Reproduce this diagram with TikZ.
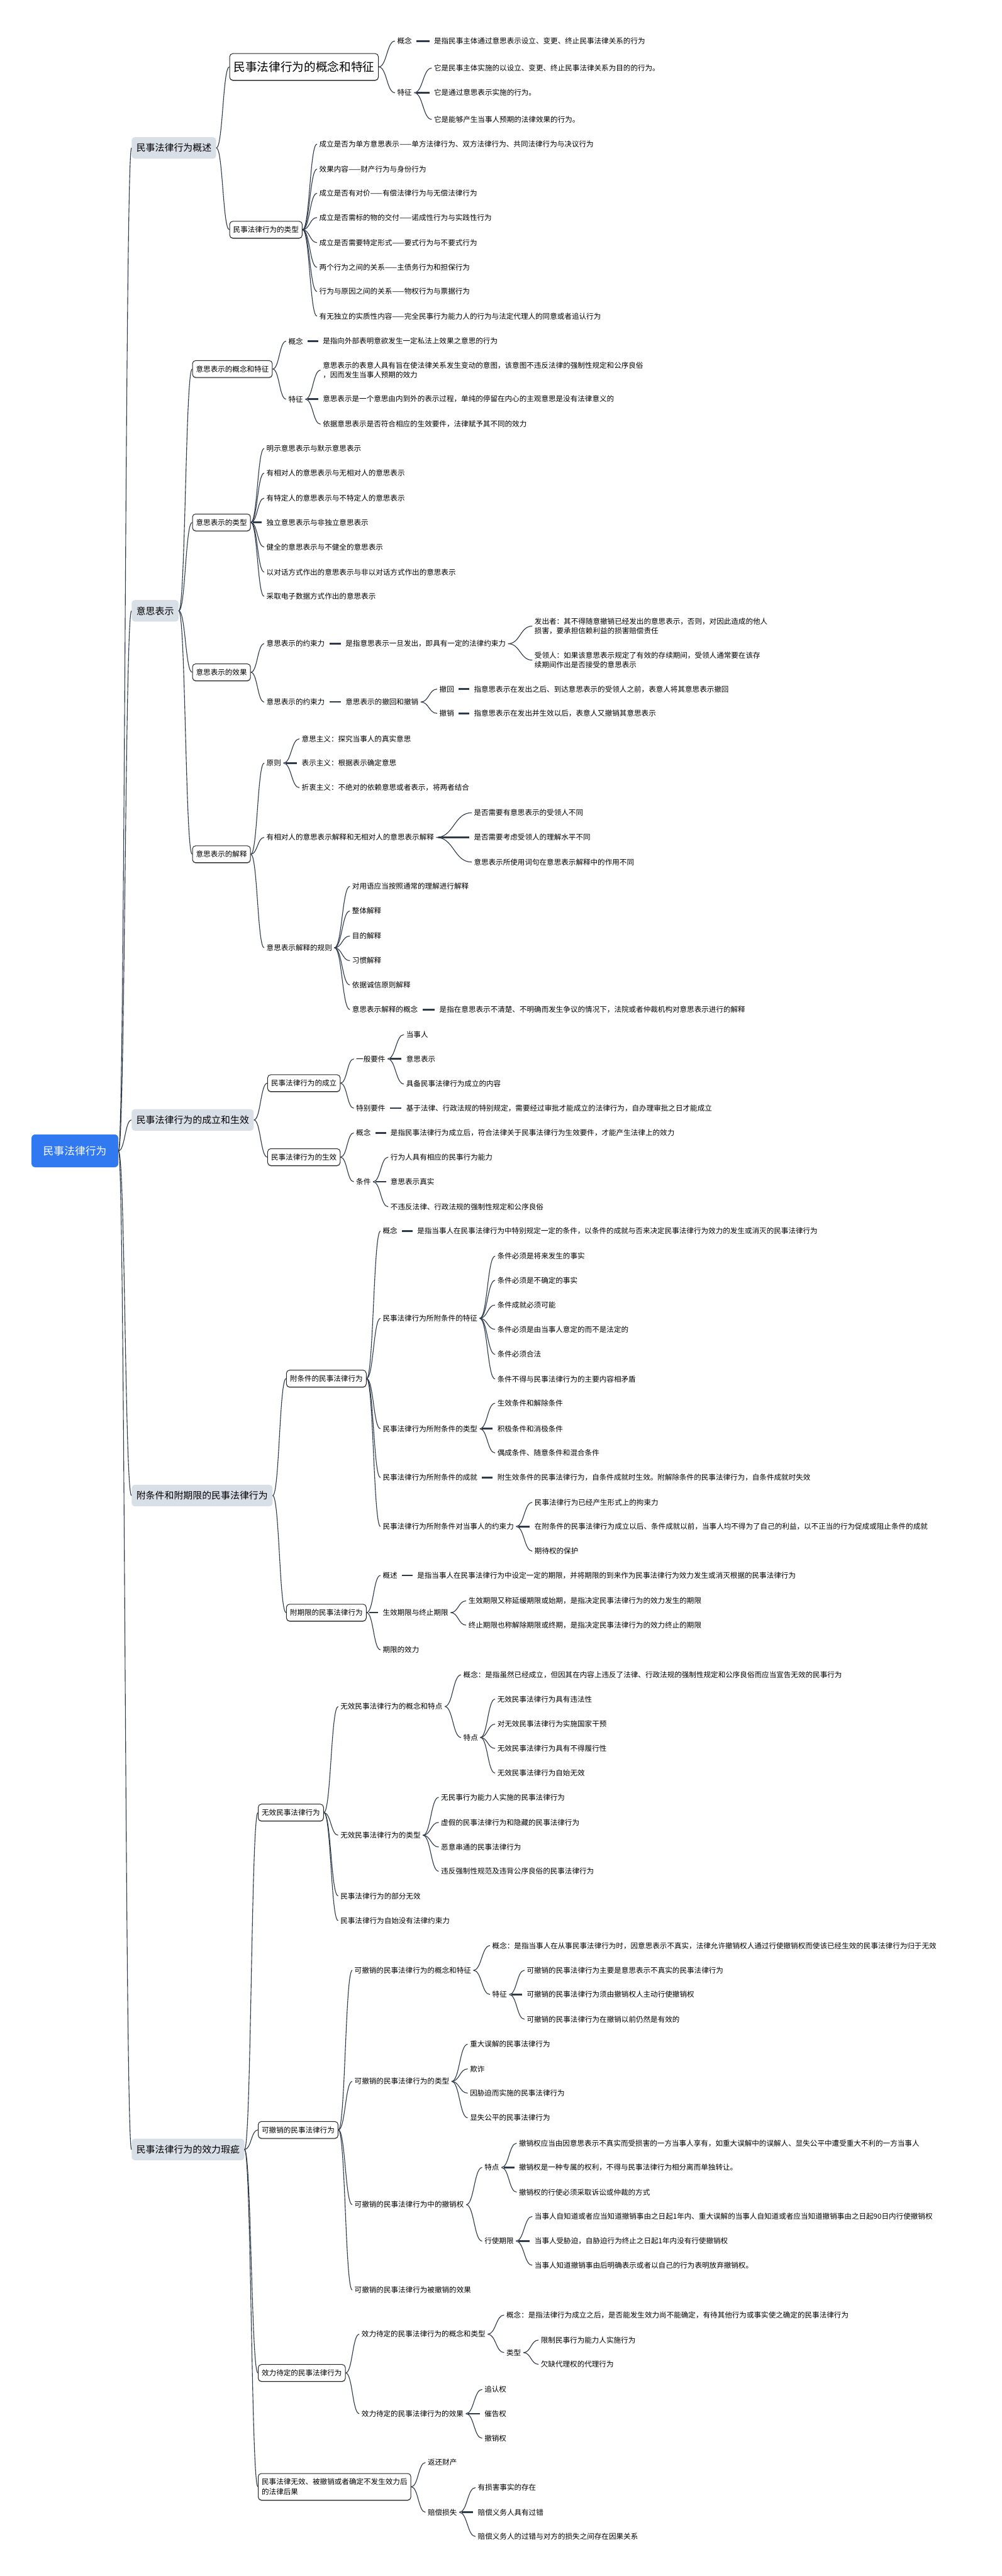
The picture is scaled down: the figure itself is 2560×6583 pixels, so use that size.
\documentclass[tikz,border=0pt]{standalone}
\usepackage{fontspec}
\setmainfont{Noto Sans CJK SC}
\usetikzlibrary{calc,shadows}
\definecolor{linec}{HTML}{2E3A4A}
\definecolor{lonefill}{HTML}{D9DFE7}
\definecolor{rootfill}{HTML}{3079F0}
\tikzset{
  leaf/.style={anchor=west, inner sep=0pt, outer xsep=3pt, xshift=-3pt, font=\fontsize{9.3pt}{12.3pt}\selectfont, text=black, align=left},
  bx/.style={anchor=west, draw=black!85, line width=0.8pt, rounded corners=4pt, fill=white, inner xsep=4.5pt, inner ysep=0pt, minimum height=21.5pt, font=\fontsize{9.3pt}{12.3pt}\selectfont, align=left, drop shadow={shadow xshift=0pt, shadow yshift=-1pt, fill=black!75}},
  lone/.style={anchor=west, fill=lonefill, rounded corners=4pt, inner xsep=6pt, inner ysep=0pt, minimum height=27.5pt, font=\fontsize{12pt}{14pt}\selectfont},
  rootn/.style={anchor=west, fill=rootfill, text=white, rounded corners=5pt, inner xsep=13pt, minimum height=42pt, minimum width=111pt, font=\fontsize{13.5pt}{16pt}\selectfont},
  conn/.style={draw=linec, line width=0.9pt},
  stub/.style={draw=linec, line width=2pt, shorten <=3pt, shorten >=3pt},
}
\newcommand\mmlink[2]{\draw[conn] let \p1=(#1.east),\p2=(#2.west) in (\p1) .. controls ({0.5*\x1+0.5*\x2},\y1) and ({0.5*\x1+0.5*\x2},\y2) .. (\p2);}
\newcommand\mmstub[2]{\draw[stub] (#1.east) -- (#2.west);}
\begin{document}
\begin{tikzpicture}[x=0.5pt,y=-0.5pt]
\fill[white] (0,0) rectangle (2560,6583);
\useasboundingbox (0,0) rectangle (2560,6583);
% root and level 1
\node[rootn] (r) at (80,2941) {民事法律行为};
\node[lone] (a1) at (336,378) {民事法律行为概述};
\node[lone] (a2) at (336,1561) {意思表示};
\node[lone] (a3) at (336,2862) {民事法律行为的成立和生效};
\node[lone] (a4) at (336,3822) {附条件和附期限的民事法律行为};
\node[lone] (a5) at (336,5493) {民事法律行为的效力瑕疵};
\mmlink{r}{a1}\mmlink{r}{a2}\mmlink{r}{a3}\mmlink{r}{a4}\mmlink{r}{a5}

% ===== Section 1 =====
\node[bx, font=\fontsize{15pt}{18pt}\selectfont, minimum height=34pt, inner xsep=5pt] (b11) at (586,171) {民事法律行为的概念和特征};
\node[leaf] (c111) at (1015,105) {概念};
\node[leaf] (d1111) at (1109,105) {是指民事主体通过意思表示设立、变更、终止民事法律关系的行为};
\node[leaf] (c112) at (1015,237) {特征};
\node[leaf] (d1121) at (1109,174) {它是民事主体实施的以设立、变更、终止民事法律关系为目的的行为。};
\node[leaf] (d1122) at (1109,237) {它是通过意思表示实施的行为。};
\node[leaf] (d1123) at (1109,305) {它是能够产生当事人预期的法律效果的行为。};
\mmlink{a1}{b11}
\mmlink{b11}{c111}\mmlink{b11}{c112}
\mmstub{c111}{d1111}
\mmlink{c112}{d1121}\mmstub{c112}{d1122}\mmlink{c112}{d1123}

\node[bx] (b12) at (586,587) {民事法律行为的类型};
\node[leaf] (b12c1) at (816,368) {成立是否为单方意思表示——单方法律行为、双方法律行为、共同法律行为与决议行为};
\node[leaf] (b12c2) at (816,432) {效果内容——财产行为与身份行为};
\node[leaf] (b12c3) at (816,494) {成立是否有对价——有偿法律行为与无偿法律行为};
\node[leaf] (b12c4) at (816,556) {成立是否需标的物的交付——诺成性行为与实践性行为};
\node[leaf] (b12c5) at (816,620) {成立是否需要特定形式——要式行为与不要式行为};
\node[leaf] (b12c6) at (816,683) {两个行为之间的关系——主债务行为和担保行为};
\node[leaf] (b12c7) at (816,745) {行为与原因之间的关系——物权行为与票据行为};
\node[leaf] (b12c8) at (816,808) {有无独立的实质性内容——完全民事行为能力人的行为与法定代理人的同意或者追认行为};
\mmlink{a1}{b12}
\foreach \i in {1,...,8} {\mmlink{b12}{b12c\i}}

% ===== Section 2 =====
\node[bx] (b21) at (491,943) {意思表示的概念和特征};
\node[leaf] (c211) at (737,872) {概念};
\node[leaf] (d2111) at (825,872) {是指向外部表明意欲发生一定私法上效果之意思的行为};
\node[leaf] (c212) at (737,1020) {特征};
\node[leaf] (d2121) at (825,946) {意思表示的表意人具有旨在使法律关系发生变动的意图，该意图不违反法律的强制性规定和公序良俗\\，因而发生当事人预期的效力};
\node[leaf] (d2122) at (825,1020) {意思表示是一个意思由内到外的表示过程，单纯的停留在内心的主观意思是没有法律意义的};
\node[leaf] (d2123) at (825,1084) {依据意思表示是否符合相应的生效要件，法律赋予其不同的效力};
\mmlink{a2}{b21}
\mmlink{b21}{c211}\mmlink{b21}{c212}
\mmstub{c211}{d2111}
\mmlink{c212}{d2121}\mmstub{c212}{d2122}\mmlink{c212}{d2123}

\node[bx] (b22) at (491,1335) {意思表示的类型};
\node[leaf] (b22c1) at (681,1146) {明示意思表示与默示意思表示};
\node[leaf] (b22c2) at (681,1209) {有相对人的意思表示与无相对人的意思表示};
\node[leaf] (b22c3) at (681,1273) {有特定人的意思表示与不特定人的意思表示};
\node[leaf] (b22c4) at (681,1335) {独立意思表示与非独立意思表示};
\node[leaf] (b22c5) at (681,1398) {健全的意思表示与不健全的意思表示};
\node[leaf] (b22c6) at (681,1462) {以对话方式作出的意思表示与非以对话方式作出的意思表示};
\node[leaf] (b22c7) at (681,1524) {采取电子数据方式作出的意思表示};
\mmlink{a2}{b22}
\foreach \i in {1,2,3,5,6,7} {\mmlink{b22}{b22c\i}}
\mmstub{b22}{b22c4}

\node[bx] (b23) at (491,1718) {意思表示的效果};
\node[leaf] (c231) at (681,1645) {意思表示的约束力};
\node[leaf] (c2311) at (883,1645) {是指意思表示一旦发出，即具有一定的法律约束力};
\node[leaf] (e1) at (1366,1600) {发出者：其不得随意撤销已经发出的意思表示，否则，对因此造成的他人\\损害，要承担信赖利益的损害赔偿责任};
\node[leaf] (e2) at (1366,1687) {受领人：如果该意思表示规定了有效的存续期间，受领人通常要在该存\\续期间作出是否接受的意思表示};
\node[leaf] (c232) at (681,1794) {意思表示的约束力};
\node[leaf] (c2321) at (883,1794) {意思表示的撤回和撤销};
\node[leaf] (e3) at (1123,1761) {撤回};
\node[leaf] (e3t) at (1211,1761) {指意思表示在发出之后、到达意思表示的受领人之前，表意人将其意思表示撤回};
\node[leaf] (e4) at (1123,1823) {撤销};
\node[leaf] (e4t) at (1211,1823) {指意思表示在发出并生效以后，表意人又撤销其意思表示};
\mmlink{a2}{b23}
\mmlink{b23}{c231}\mmlink{b23}{c232}
\mmstub{c231}{c2311}\mmlink{c2311}{e1}\mmlink{c2311}{e2}
\mmstub{c232}{c2321}\mmlink{c2321}{e3}\mmlink{c2321}{e4}
\mmstub{e3}{e3t}\mmstub{e4}{e4t}

\node[bx] (b24) at (491,2183) {意思表示的解释};
\node[leaf] (c241) at (681,1950) {原则};
\node[leaf] (f1) at (771,1888) {意思主义：探究当事人的真实意思};
\node[leaf] (f2) at (771,1950) {表示主义：根据表示确定意思};
\node[leaf] (f3) at (771,2013) {折衷主义：不绝对的依赖意思或者表示，将两者结合};
\node[leaf] (c242) at (681,2140) {有相对人的意思表示解释和无相对人的意思表示解释};
\node[leaf] (g1) at (1211,2077) {是否需要有意思表示的受领人不同};
\node[leaf] (g2) at (1211,2140) {是否需要考虑受领人的理解水平不同};
\node[leaf] (g3) at (1211,2203) {意思表示所使用词句在意思表示解释中的作用不同};
\node[leaf] (c243) at (681,2422) {意思表示解释的规则};
\node[leaf] (h1) at (900,2265) {对用语应当按照通常的理解进行解释};
\node[leaf] (h2) at (900,2328) {整体解释};
\node[leaf] (h3) at (900,2392) {目的解释};
\node[leaf] (h4) at (900,2455) {习惯解释};
\node[leaf] (h5) at (900,2517) {依据诚信原则解释};
\node[leaf] (h6) at (900,2580) {意思表示解释的概念};
\node[leaf] (h6t) at (1123,2580) {是指在意思表示不清楚、不明确而发生争议的情况下，法院或者仲裁机构对意思表示进行的解释};
\mmlink{a2}{b24}
\mmlink{b24}{c241}\mmlink{b24}{c242}\mmlink{b24}{c243}
\mmlink{c241}{f1}\mmstub{c241}{f2}\mmlink{c241}{f3}
\mmlink{c242}{g1}\mmstub{c242}{g2}\mmlink{c242}{g3}
\foreach \i in {1,...,6} {\mmlink{c243}{h\i}}
\mmstub{h6}{h6t}

% ===== Section 3 =====
\node[bx] (b31) at (683,2768) {民事法律行为的成立};
\node[leaf] (c311) at (910,2706) {一般要件};
\node[leaf] (i1) at (1038,2644) {当事人};
\node[leaf] (i2) at (1038,2706) {意思表示};
\node[leaf] (i3) at (1038,2770) {具备民事法律行为成立的内容};
\node[leaf] (c312) at (910,2832) {特别要件};
\node[leaf] (c312t) at (1038,2832) {基于法律、行政法规的特别规定，需要经过审批才能成立的法律行为，自办理审批之日才能成立};
\mmlink{a3}{b31}
\mmlink{b31}{c311}\mmlink{b31}{c312}
\mmlink{c311}{i1}\mmstub{c311}{i2}\mmlink{c311}{i3}
\mmstub{c312}{c312t}

\node[bx] (b32) at (683,2957) {民事法律行为的生效};
\node[leaf] (c321) at (910,2895) {概念};
\node[leaf] (c321t) at (998,2895) {是指民事法律行为成立后，符合法律关于民事法律行为生效要件，才能产生法律上的效力};
\node[leaf] (c322) at (910,3020) {条件};
\node[leaf] (j1) at (998,2957) {行为人具有相应的民事行为能力};
\node[leaf] (j2) at (998,3020) {意思表示真实};
\node[leaf] (j3) at (998,3084) {不违反法律、行政法规的强制性规定和公序良俗};
\mmlink{a3}{b32}
\mmlink{b32}{c321}\mmlink{b32}{c322}
\mmstub{c321}{c321t}
\mmlink{c322}{j1}\mmstub{c322}{j2}\mmlink{c322}{j3}

% ===== Section 4 =====
\node[bx] (b41) at (731,3523) {附条件的民事法律行为};
\node[leaf] (c411) at (978,3146) {概念};
\node[leaf] (c411t) at (1066,3146) {是指当事人在民事法律行为中特别规定一定的条件，以条件的成就与否来决定民事法律行为效力的发生或消灭的民事法律行为};
\node[leaf] (c412) at (978,3369) {民事法律行为所附条件的特征};
\node[leaf] (k1) at (1271,3210) {条件必须是将来发生的事实};
\node[leaf] (k2) at (1271,3272) {条件必须是不确定的事实};
\node[leaf] (k3) at (1271,3335) {条件成就必须可能};
\node[leaf] (k4) at (1271,3397) {条件必须是由当事人意定的而不是法定的};
\node[leaf] (k5) at (1271,3461) {条件必须合法};
\node[leaf] (k6) at (1271,3524) {条件不得与民事法律行为的主要内容相矛盾};
\node[leaf] (c413) at (978,3651) {民事法律行为所附条件的类型};
\node[leaf] (l1) at (1271,3586) {生效条件和解除条件};
\node[leaf] (l2) at (1271,3651) {积极条件和消极条件};
\node[leaf] (l3) at (1271,3713) {偶成条件、随意条件和混合条件};
\node[leaf] (c414) at (978,3776) {民事法律行为所附条件的成就};
\node[leaf] (c414t) at (1271,3776) {附生效条件的民事法律行为，自条件成就时生效。附解除条件的民事法律行为，自条件成就时失效};
\node[leaf] (c415) at (978,3901) {民事法律行为所附条件对当事人的约束力};
\node[leaf] (m1) at (1366,3839) {民事法律行为已经产生形式上的拘束力};
\node[leaf] (m2) at (1366,3901) {在附条件的民事法律行为成立以后、条件成就以前，当事人均不得为了自己的利益，以不正当的行为促成或阻止条件的成就};
\node[leaf] (m3) at (1366,3964) {期待权的保护};
\mmlink{a4}{b41}
\mmlink{b41}{c411}\mmlink{b41}{c412}\mmlink{b41}{c413}\mmlink{b41}{c414}\mmlink{b41}{c415}
\mmstub{c411}{c411t}
\foreach \i in {1,...,6} {\mmlink{c412}{k\i}}
\mmlink{c413}{l1}\mmstub{c413}{l2}\mmlink{c413}{l3}
\mmstub{c414}{c414t}
\mmlink{c415}{m1}\mmstub{c415}{m2}\mmlink{c415}{m3}

\node[bx] (b42) at (731,4121) {附期限的民事法律行为};
\node[leaf] (c421) at (978,4026) {概述};
\node[leaf] (c421t) at (1066,4026) {是指当事人在民事法律行为中设定一定的期限，并将期限的到来作为民事法律行为效力发生或消灭根据的民事法律行为};
\node[leaf] (c422) at (978,4121) {生效期限与终止期限};
\node[leaf] (n1) at (1197,4091) {生效期限又称延缓期限或始期，是指决定民事法律行为的效力发生的期限};
\node[leaf] (n2) at (1197,4153) {终止期限也称解除期限或终期，是指决定民事法律行为的效力终止的期限};
\node[leaf] (c423) at (978,4216) {期限的效力};
\mmlink{a4}{b42}
\mmlink{b42}{c421}\mmstub{b42}{c422}\mmlink{b42}{c423}
\mmstub{c421}{c421t}
\mmlink{c422}{n1}\mmlink{c422}{n2}

% ===== Section 5 =====
\node[bx] (b51) at (659,4632) {无效民事法律行为};
\node[leaf] (c511) at (870,4361) {无效民事法律行为的概念和特点};
\node[leaf] (c5111) at (1184,4280) {概念：是指虽然已经成立，但因其在内容上违反了法律、行政法规的强制性规定和公序良俗而应当宣告无效的民事行为};
\node[leaf] (c5112) at (1184,4440) {特点};
\node[leaf] (o1) at (1271,4342) {无效民事法律行为具有违法性};
\node[leaf] (o2) at (1271,4406) {对无效民事法律行为实施国家干预};
\node[leaf] (o3) at (1271,4468) {无效民事法律行为具有不得履行性};
\node[leaf] (o4) at (1271,4531) {无效民事法律行为自始无效};
\node[leaf] (c512) at (870,4690) {无效民事法律行为的类型};
\node[leaf] (p1) at (1127,4593) {无民事行为能力人实施的民事法律行为};
\node[leaf] (p2) at (1127,4657) {虚假的民事法律行为和隐藏的民事法律行为};
\node[leaf] (p3) at (1127,4720) {恶意串通的民事法律行为};
\node[leaf] (p4) at (1127,4782) {违反强制性规范及违背公序良俗的民事法律行为};
\node[leaf] (c513) at (870,4845) {民事法律行为的部分无效};
\node[leaf] (c514) at (870,4908) {民事法律行为自始没有法律约束力};
\mmlink{a5}{b51}
\mmlink{b51}{c511}\mmlink{b51}{c512}\mmlink{b51}{c513}\mmlink{b51}{c514}
\mmlink{c511}{c5111}\mmlink{c511}{c5112}
\foreach \i in {1,...,4} {\mmlink{c5112}{o\i}}
\foreach \i in {1,...,4} {\mmlink{c512}{p\i}}

\node[bx] (b52) at (659,5443) {可撤销的民事法律行为};
\node[leaf] (c521) at (906,5035) {可撤销的民事法律行为的概念和特征};
\node[leaf] (c5211) at (1258,4972) {概念：是指当事人在从事民事法律行为时，因意思表示不真实，法律允许撤销权人通过行使撤销权而使该已经生效的民事法律行为归于无效};
\node[leaf] (c5212) at (1258,5097) {特征};
\node[leaf] (q1) at (1346,5035) {可撤销的民事法律行为主要是意思表示不真实的民事法律行为};
\node[leaf] (q2) at (1346,5097) {可撤销的民事法律行为须由撤销权人主动行使撤销权};
\node[leaf] (q3) at (1346,5160) {可撤销的民事法律行为在撤销以前仍然是有效的};
\node[leaf] (c522) at (906,5319) {可撤销的民事法律行为的类型};
\node[leaf] (s1) at (1201,5224) {重大误解的民事法律行为};
\node[leaf] (s2) at (1201,5287) {欺诈};
\node[leaf] (s3) at (1201,5349) {因胁迫而实施的民事法律行为};
\node[leaf] (s4) at (1201,5412) {显失公平的民事法律行为};
\node[leaf] (c523) at (906,5634) {可撤销的民事法律行为中的撤销权};
\node[leaf] (c5231) at (1238,5539) {特点};
\node[leaf] (u1) at (1326,5477) {撤销权应当由因意思表示不真实而受损害的一方当事人享有，如重大误解中的误解人、显失公平中遭受重大不利的一方当事人};
\node[leaf] (u2) at (1326,5539) {撤销权是一种专属的权利，不得与民事法律行为相分离而单独转让。};
\node[leaf] (u3) at (1326,5602) {撤销权的行使必须采取诉讼或仲裁的方式};
\node[leaf] (c5232) at (1238,5727) {行使期限};
\node[leaf] (v1) at (1366,5664) {当事人自知道或者应当知道撤销事由之日起1年内、重大误解的当事人自知道或者应当知道撤销事由之日起90日内行使撤销权};
\node[leaf] (v2) at (1366,5727) {当事人受胁迫，自胁迫行为终止之日起1年内没有行使撤销权};
\node[leaf] (v3) at (1366,5789) {当事人知道撤销事由后明确表示或者以自己的行为表明放弃撤销权。};
\node[leaf] (c524) at (906,5852) {可撤销的民事法律行为被撤销的效果};
\mmlink{a5}{b52}
\mmlink{b52}{c521}\mmlink{b52}{c522}\mmlink{b52}{c523}\mmlink{b52}{c524}
\mmlink{c521}{c5211}\mmlink{c521}{c5212}
\mmlink{c5212}{q1}\mmstub{c5212}{q2}\mmlink{c5212}{q3}
\foreach \i in {1,...,4} {\mmlink{c522}{s\i}}
\mmlink{c523}{c5231}\mmlink{c523}{c5232}
\mmlink{c5231}{u1}\mmstub{c5231}{u2}\mmlink{c5231}{u3}
\mmlink{c5232}{v1}\mmstub{c5232}{v2}\mmlink{c5232}{v3}

\node[bx] (b53) at (659,6064) {效力待定的民事法律行为};
\node[leaf] (c531) at (924,5965) {效力待定的民事法律行为的概念和类型};
\node[leaf] (c5311) at (1294,5916) {概念：是指法律行为成立之后，是否能发生效力尚不能确定，有待其他行为或事实使之确定的民事法律行为};
\node[leaf] (c5312) at (1294,6012) {类型};
\node[leaf] (w1) at (1382,5980) {限制民事行为能力人实施行为};
\node[leaf] (w2) at (1382,6042) {欠缺代理权的代理行为};
\node[leaf] (c532) at (924,6168) {效力待定的民事法律行为的效果};
\node[leaf] (x1) at (1238,6106) {追认权};
\node[leaf] (x2) at (1238,6168) {催告权};
\node[leaf] (x3) at (1238,6231) {撤销权};
\mmlink{a5}{b53}
\mmlink{b53}{c531}\mmlink{b53}{c532}
\mmlink{c531}{c5311}\mmlink{c531}{c5312}
\mmlink{c5312}{w1}\mmlink{c5312}{w2}
\mmlink{c532}{x1}\mmstub{c532}{x2}\mmlink{c532}{x3}

\node[bx, minimum height=34pt] (b54) at (659,6355) {民事法律无效、被撤销或者确定不发生效力后\\的法律后果};
\node[leaf] (c541) at (1093,6293) {返还财产};
\node[leaf] (c542) at (1093,6420) {赔偿损失};
\node[leaf] (y1) at (1221,6357) {有损害事实的存在};
\node[leaf] (y2) at (1221,6420) {赔偿义务人具有过错};
\node[leaf] (y3) at (1221,6482) {赔偿义务人的过错与对方的损失之间存在因果关系};
\mmlink{a5}{b54}
\mmlink{b54}{c541}\mmlink{b54}{c542}
\mmlink{c542}{y1}\mmstub{c542}{y2}\mmlink{c542}{y3}
\end{tikzpicture}
\end{document}
